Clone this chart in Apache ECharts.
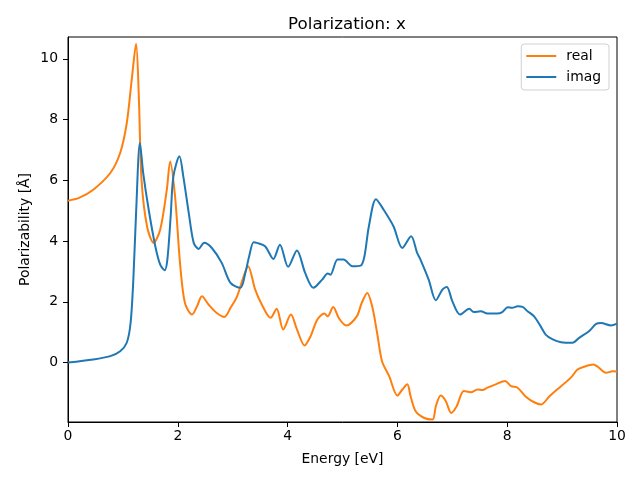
<!DOCTYPE html>
<html>
<head>
<meta charset="utf-8">
<script src="https://cdn.jsdelivr.net/npm/echarts@6/dist/echarts.min.js"></script>
<style>html,body{margin:0;padding:0;background:#fff}#c{width:640px;height:480px}</style>
</head>
<body>
<div id="c"></div>
<script>
var realX = [0, 0.2, 0.46, 0.77, 0.95, 1.07, 1.16, 1.24, 1.29, 1.34, 1.44, 1.56, 1.68, 1.80, 1.86, 1.95, 2.04, 2.13, 2.26, 2.35, 2.44, 2.56, 2.71, 2.85, 2.96, 3.08, 3.20, 3.28, 3.41, 3.53, 3.69, 3.80, 3.92, 4.06, 4.17, 4.31, 4.42, 4.54, 4.67, 4.73, 4.83, 4.94, 5.07, 5.26, 5.35, 5.45, 5.54, 5.63, 5.72, 5.85, 6.00, 6.09, 6.18, 6.24, 6.33, 6.48, 6.64, 6.70, 6.79, 6.88, 6.98, 7.08, 7.21, 7.34, 7.46, 7.55, 7.64, 7.79, 7.96, 8.07, 8.19, 8.34, 8.49, 8.62, 8.77, 8.98, 9.16, 9.28, 9.40, 9.57, 9.65, 9.80, 9.92, 10.0];
var realY = [5.33, 5.42, 5.69, 6.24, 6.9, 7.88, 9.3, 10.5, 8.76, 6.0, 4.48, 3.94, 4.38, 5.69, 6.62, 5.47, 3.28, 1.96, 1.58, 1.85, 2.18, 1.91, 1.63, 1.50, 1.80, 2.18, 2.84, 3.17, 2.40, 1.91, 1.47, 1.77, 1.09, 1.58, 1.09, 0.56, 0.87, 1.41, 1.61, 1.52, 1.83, 1.44, 1.22, 1.52, 1.96, 2.29, 1.85, 0.98, 0.04, -0.45, -1.09, -0.89, -0.72, -1.11, -1.60, -1.82, -1.88, -1.44, -1.09, -1.27, -1.66, -1.44, -0.94, -0.98, -0.89, -0.91, -0.83, -0.72, -0.61, -0.78, -0.83, -1.13, -1.31, -1.38, -1.11, -0.78, -0.50, -0.23, -0.14, -0.07, -0.14, -0.34, -0.29, -0.30];
var imagX = [0, 0.46, 0.77, 0.95, 1.07, 1.14, 1.19, 1.24, 1.31, 1.37, 1.47, 1.59, 1.68, 1.76, 1.81, 1.87, 1.92, 2.03, 2.10, 2.20, 2.29, 2.38, 2.48, 2.62, 2.80, 2.96, 3.14, 3.23, 3.30, 3.38, 3.44, 3.59, 3.74, 3.86, 4.01, 4.17, 4.32, 4.47, 4.63, 4.73, 4.78, 4.91, 5.02, 5.18, 5.33, 5.40, 5.48, 5.61, 5.75, 5.93, 6.09, 6.25, 6.36, 6.42, 6.57, 6.70, 6.82, 6.90, 7.00, 7.14, 7.31, 7.39, 7.52, 7.64, 7.82, 7.91, 8.01, 8.09, 8.19, 8.28, 8.37, 8.49, 8.61, 8.70, 8.83, 8.98, 9.19, 9.31, 9.49, 9.62, 9.71, 9.89, 10.0];
var imagY = [0.0, 0.1, 0.21, 0.37, 0.65, 1.3, 2.73, 4.92, 7.23, 6.24, 5.03, 3.83, 3.22, 3.04, 3.39, 4.81, 6.13, 6.79, 6.13, 4.92, 3.94, 3.74, 3.94, 3.77, 3.28, 2.62, 2.46, 2.95, 3.5, 3.96, 3.94, 3.83, 3.41, 3.88, 3.15, 3.69, 2.95, 2.46, 2.73, 2.93, 2.89, 3.39, 3.39, 3.17, 3.19, 3.5, 4.48, 5.38, 5.03, 4.48, 3.77, 4.16, 3.61, 3.39, 2.73, 2.05, 2.40, 2.49, 2.02, 1.58, 1.77, 1.66, 1.69, 1.61, 1.61, 1.66, 1.82, 1.80, 1.85, 1.83, 1.69, 1.52, 1.19, 0.92, 0.76, 0.67, 0.65, 0.81, 1.03, 1.27, 1.30, 1.22, 1.28];
var yTicks = [0, 2, 4, 6, 8, 10];
var xTicks = [0, 2, 4, 6, 8, 10];

function pairs(xs, ys) { return xs.map(function (x, i) { return [x, ys[i]]; }); }
var FONT = 'DejaVu Sans';
var chart = echarts.init(document.getElementById('c'), null, { renderer: 'canvas' });
chart.setOption({
  animation: false,
  backgroundColor: '#fff',
  title: {
    text: 'Polarization: x', left: 342, top: 11, textAlign: 'center',
    textStyle: { fontFamily: FONT, fontSize: 16.7, fontWeight: 'normal', color: '#000' }
  },
  legend: {
    orient: 'vertical', right: 31, top: 44,
    data: ['real', 'imag'],
    icon: 'rect', itemWidth: 30, itemHeight: 2, itemGap: 7,
    padding: [5, 8, 6, 5],
    backgroundColor: '#fff', borderColor: '#d0d0d0', borderWidth: 1, borderRadius: 3,
    textStyle: { fontFamily: FONT, fontSize: 13.9, color: '#000', padding: [0, 0, 0, 5] }
  },
  grid: { left: 68, right: 23, top: 37, bottom: 58, show: true, borderColor: '#000', borderWidth: 1, backgroundColor: 'transparent' },
  xAxis: {
    type: 'value', min: 0, max: 10, interval: 2,
    name: 'Energy [eV]', nameLocation: 'middle', nameGap: 30, nameMoveOverlap: false,
    nameTextStyle: { fontFamily: FONT, fontSize: 13.9, color: '#000' },
    axisLine: { show: true, onZero: false, lineStyle: { color: '#000', width: 1 } },
    axisTick: { show: true, inside: false, length: 5, lineStyle: { color: '#000' }, customValues: xTicks },
    axisLabel: { fontFamily: FONT, fontSize: 13.9, color: '#000', margin: 7, customValues: xTicks },
    splitLine: { show: false }
  },
  yAxis: {
    type: 'value', min: -1.96, max: 10.72,
    name: 'Polarizability [Å]', nameLocation: 'middle', nameGap: 36, nameMoveOverlap: false,
    nameTextStyle: { fontFamily: FONT, fontSize: 13.9, color: '#000' },
    axisLine: { show: true, onZero: false, lineStyle: { color: '#000', width: 1 } },
    axisTick: { show: true, inside: false, length: 5, lineStyle: { color: '#000' }, customValues: yTicks },
    axisLabel: { fontFamily: FONT, fontSize: 13.9, color: '#000', margin: 10, customValues: yTicks },
    splitLine: { show: false }
  },
  series: [
    { name: 'real', type: 'line', data: pairs(realX, realY), symbol: 'none', smooth: 0.3, clip: true,
      color: '#ff7f0e', lineStyle: { color: '#ff7f0e', width: 2 } },
    { name: 'imag', type: 'line', data: pairs(imagX, imagY), symbol: 'none', smooth: 0.3, clip: true,
      color: '#1f77b4', lineStyle: { color: '#1f77b4', width: 2 } }
  ]
});
</script>
</body>
</html>
